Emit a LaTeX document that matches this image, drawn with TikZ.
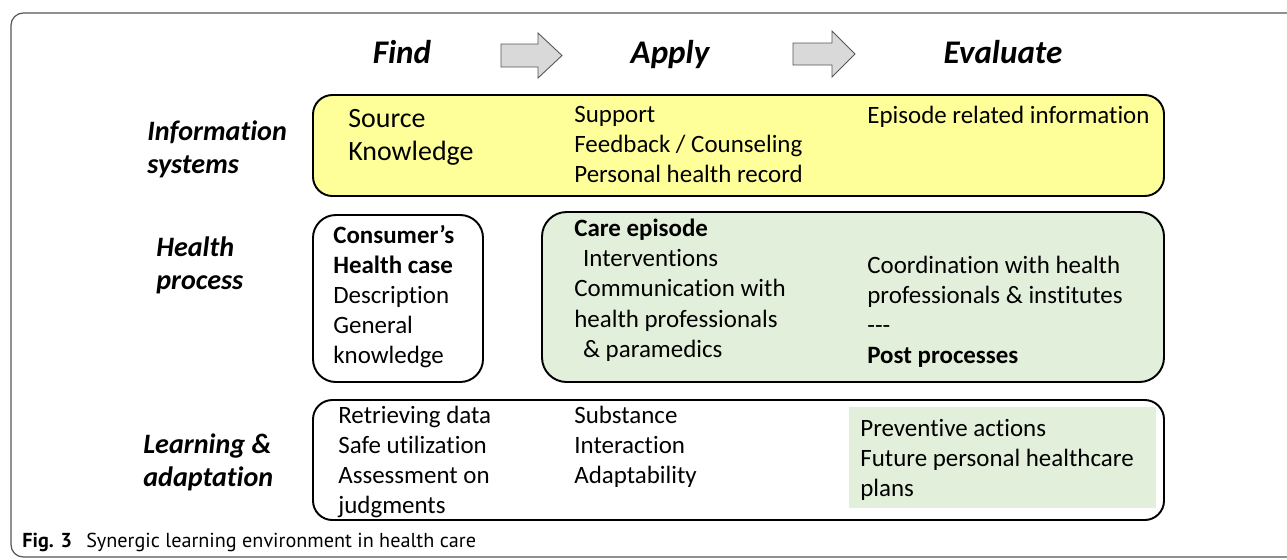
\documentclass[tikz,border=0pt]{standalone}
\usepackage{fontspec}
\setmainfont{Carlito}[Ligatures = {TeX, NoCommon}]
\newfontfamily\capfont{PT Sans}
\usepackage{tikz}
\usepackage{xcolor}
\usetikzlibrary{fit}

\definecolor{infoyellow}{RGB}{255,255,153}
\definecolor{caregreen}{RGB}{226,239,218}
\definecolor{arrowgray}{RGB}{217,217,217}
\definecolor{framegray}{RGB}{85,85,85}

\begin{document}
\begin{tikzpicture}[
	x = 0.02cm, y = -0.02cm,
	box/.style = {draw, line width = 1.1pt, rounded corners = 11pt, inner sep = 0pt},
	txt/.style = {anchor = north west, inner sep = 0pt, align = left, font = \fontsize{14.2}{17.1}\selectfont},
	bigtxt/.style = {txt, font = \fontsize{15.9}{18.8}\selectfont},
	rowlabel/.style = {txt, font = \fontsize{16}{18.8}\selectfont\bfseries\itshape},
	phase/.style = {anchor = base, inner sep = 0pt, font = \fontsize{18.8}{22}\selectfont\bfseries\itshape},
	flowarrow/.style = {draw = framegray, fill = arrowgray, line width = 0.5pt}
]
\useasboundingbox (0,0) rectangle (1287,559);

% outer frame
\draw[framegray, line width = 0.7pt, rounded corners = 7pt] (11,13) rectangle (1320,557);

% phases
\node[phase] (find) at (402,63.5) {Find};
\node[phase] (apply) at (670,63.5) {Apply};
\node[phase] (evaluate) at (1003,63.5) {Evaluate};
\draw[flowarrow] (501,44) -- ++(37,0) -- ++(0,-11) -- ++(24,22.5) -- ++(-24,22.5) -- ++(0,-11) -- ++(-37,0) -- cycle;
\draw[flowarrow] (793,43) -- ++(39,0) -- ++(0,-12) -- ++(23,23) -- ++(-23,23) -- ++(0,-12) -- ++(-39,0) -- cycle;

% row labels
\node[rowlabel] (info-label) at (147,120) {Information\\systems};
\node[rowlabel] (health-label) at (156,236) {Health\\process};
\node[rowlabel] (learn-label) at (143,433) {Learning \&\\adaptation};

% boxes
\node[box, fill = infoyellow, fit = {(313,95) (1164,196)}] (info) {};
\node[box, rounded corners = 13pt, fit = {(313,215) (483,382)}] (consumer) {};
\node[box, fill = caregreen, rounded corners = 14pt, fit = {(542,212) (1164,382)}] (care) {};
\node[box, fit = {(313,400) (1164,520)}] (learn) {};
\fill[caregreen] (849,407) rectangle (1156,508);

% information systems
\node[bigtxt] (source) at (348,109) {Source\\Knowledge};
\node[txt] (support) at (574,106) {Support\\Feedback / Counseling\\Personal health record};
\node[txt] (episode) at (867,106) {Episode related information};

% health process
\node[txt] (case) at (333,225) {\textbf{Consumer’s}\\\textbf{Health case}\\Description\\General\\knowledge};
\node[txt] (care-text) at (574,219) {\textbf{Care episode}\\\hspace{0.35em}Interventions\\Communication with\\health professionals\\\hspace{0.35em}\& paramedics};
\node[txt] (coord) at (867,256) {Coordination with health\\professionals \& institutes\\-{}-{}-\\\textbf{Post processes}};

% learning and adaptation
\node[txt] (retrieve) at (338,406) {Retrieving data\\Safe utilization\\Assessment on\\judgments};
\node[txt] (substance) at (574,406) {Substance\\Interaction\\Adaptability};
\node[txt] (prevent) at (860,419) {Preventive actions\\Future personal healthcare\\plans};

% caption
\node[anchor = base west, inner sep = 0pt, font = \capfont\fontsize{11.5}{13}\selectfont] (caption) at (22,547) {\textbf{Fig. 3}\hspace{0.7em}Synergic learning environment in health care};
\end{tikzpicture}
\end{document}
